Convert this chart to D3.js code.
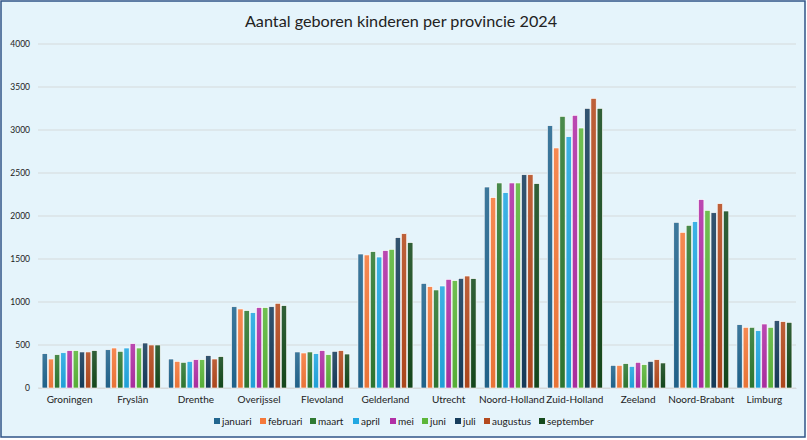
<html>
<head>
<meta charset="utf-8">
<script src="https://d3js.org/d3.v7.min.js"></script>
<style>
	body { margin: 0; background: #fff; }
	text { font-family: Lato, 'Open Sans', sans-serif; fill: #222; }
</style>
</head>
<body>
<svg id="svg" width="807" height="440"></svg>
<script>
'use strict';

const title = 'Aantal geboren kinderen per provincie 2024';
const provinces = ['Groningen', 'Fryslân', 'Drenthe', 'Overijssel', 'Flevoland', 'Gelderland',
	'Utrecht', 'Noord-Holland', 'Zuid-Holland', 'Zeeland', 'Noord-Brabant', 'Limburg'];
const months = ['januari', 'februari', 'maart', 'april', 'mei', 'juni', 'juli', 'augustus', 'september'];
const colors = ['#22668f', '#f5793a', '#2f7a33', '#22a8e2', '#b12fa6', '#5cb63a', '#173d5c', '#b44a1e', '#154a1d'];
const yTicks = [0, 500, 1000, 1500, 2000, 2500, 3000, 3500, 4000];

// one row per province, one value per month
const births = [
	[399, 337, 387, 410, 434, 434, 419, 419, 434],
	[445, 465, 426, 465, 515, 465, 523, 500, 500],
	[337, 309, 298, 309, 329, 329, 376, 337, 364],
	[945, 919, 899, 876, 934, 934, 945, 984, 957],
	[419, 407, 419, 399, 434, 387, 426, 434, 395],
	[1558, 1547, 1585, 1523, 1597, 1612, 1748, 1794, 1690],
	[1216, 1178, 1140, 1186, 1263, 1248, 1274, 1302, 1271],
	[2337, 2213, 2384, 2271, 2384, 2384, 2480, 2480, 2376],
	[3050, 2791, 3158, 2922, 3170, 3023, 3251, 3367, 3251],
	[263, 263, 283, 251, 298, 271, 309, 329, 291],
	[1926, 1809, 1891, 1934, 2190, 2065, 2038, 2143, 2058],
	[736, 705, 705, 666, 744, 705, 783, 771, 763]
];

const width = 807;
const height = 440;
const margin = {left: 38, right: 11, top: 44, bottom: 52};

const svg = d3.select('#svg');

svg.append('rect')
	.attr('x', 1).attr('y', 1)
	.attr('width', width - 3).attr('height', height - 4)
	.attr('fill', '#e5f4fb')
	.attr('stroke', '#2f5488')
	.attr('stroke-width', 1.5);

const defs = svg.append('defs');
colors.forEach((c, i) => {
	const g = defs.append('linearGradient')
		.attr('id', 'grad' + i)
		.attr('x1', 0).attr('y1', 0).attr('x2', 0).attr('y2', 1);
	g.append('stop').attr('offset', '0%').attr('stop-color', d3.interpolateRgb(c, '#ffffff')(0.12));
	g.append('stop').attr('offset', '100%').attr('stop-color', d3.color(c).darker(0.15));
});

const x0 = d3.scaleBand()
	.domain(provinces)
	.range([margin.left, width - margin.right])
	.paddingInner(0.1)
	.paddingOuter(0.05);

const x1 = d3.scaleBand()
	.domain(months)
	.range([0, x0.bandwidth()])
	.padding(0.15);

const y = d3.scaleLinear()
	.domain([0, 4000])
	.range([height - margin.bottom, margin.top]);

// gridlines
svg.append('g')
	.selectAll('line')
	.data(yTicks)
	.join('line')
	.attr('x1', margin.left)
	.attr('x2', width - margin.right)
	.attr('y1', d => y(d))
	.attr('y2', d => y(d))
	.attr('stroke', '#d6d9db')
	.attr('stroke-width', 1.2);

// y axis labels
const yAxis = svg.append('g')
	.attr('transform', `translate(${margin.left - 8},0)`)
	.call(d3.axisLeft(y).tickValues(yTicks).tickFormat(d3.format('d')).tickSize(0).tickPadding(0));
yAxis.select('.domain').remove();
yAxis.selectAll('text')
	.attr('font-size', 8.5)
	.style('font-family', 'Lato, sans-serif')
	.attr('fill', '#222');

// x axis labels
const xAxis = svg.append('g')
	.attr('transform', `translate(0,${y(0)})`)
	.call(d3.axisBottom(x0).tickSize(0).tickPadding(8));
xAxis.select('.domain')
	.attr('stroke', '#d6d9db');
xAxis.selectAll('text')
	.attr('font-size', 10)
	.style('font-family', 'Lato, sans-serif')
	.attr('fill', '#222');

// bars
const groups = svg.append('g')
	.selectAll('g')
	.data(provinces)
	.join('g')
	.attr('transform', d => `translate(${x0(d)},0)`);

groups.selectAll('rect')
	.data((d, i) => births[i].map((v, j) => ({month: months[j], value: v, idx: j})))
	.join('rect')
	.attr('x', d => x1(d.month))
	.attr('y', d => y(d.value))
	.attr('width', x1.bandwidth())
	.attr('height', d => y(0) - y(d.value))
	.attr('fill', d => `url(#grad${d.idx})`)
	.attr('stroke', '#ffffff')
	.attr('stroke-width', 0.6);

// title
svg.append('text')
	.attr('x', 401)
	.attr('y', 27)
	.attr('text-anchor', 'middle')
	.attr('font-size', 16.2)
	.text(title);

// legend
const legendX = [217, 263, 313, 356, 393, 425, 458, 487, 542];
const legend = svg.append('g')
	.selectAll('g')
	.data(months)
	.join('g')
	.attr('transform', (d, i) => `translate(${legendX[i]},421)`);
legend.append('rect')
	.attr('x', -3).attr('y', -3)
	.attr('width', 6).attr('height', 6)
	.attr('fill', (d, i) => colors[i]);
legend.append('text')
	.attr('x', 5)
	.attr('y', 3.5)
	.attr('font-size', 10)
	.text(d => d);
</script>
</body>
</html>
